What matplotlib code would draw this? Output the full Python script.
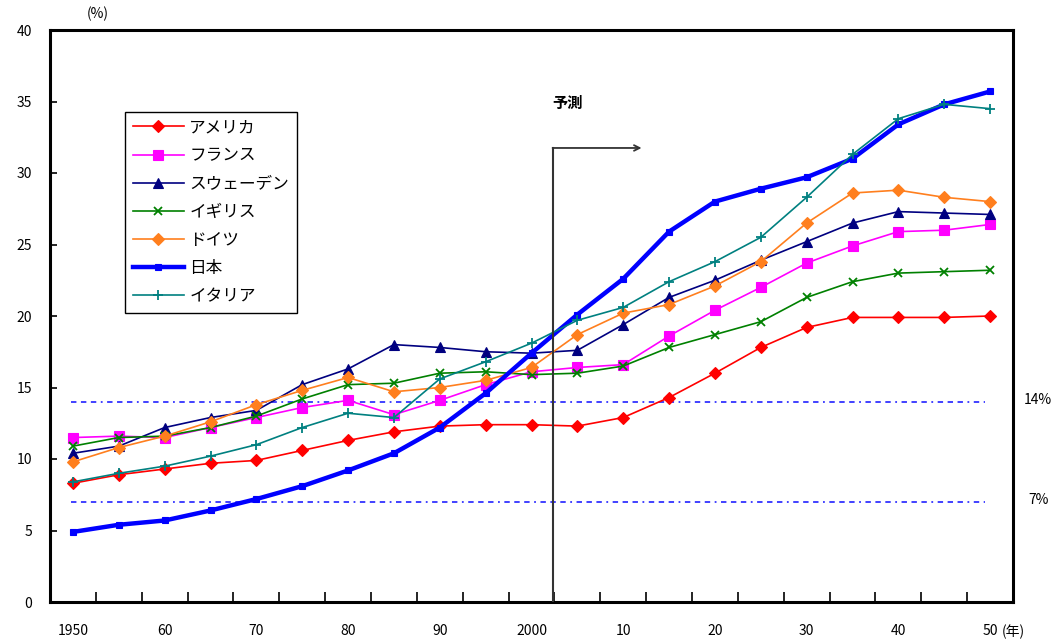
import matplotlib
matplotlib.use("Agg")
import matplotlib.pyplot as plt

plt.rcParams["font.family"] = ["Noto Sans CJK JP", "DejaVu Sans"]

# 5年刻み 1950-2050
years = list(range(1950, 2051, 5))
tick_labels = ["1950", "60", "70", "80", "90", "2000", "10", "20", "30", "40", "50"]

usa = [8.3, 8.9, 9.3, 9.7, 9.9, 10.6, 11.3, 11.9, 12.3, 12.4, 12.4, 12.3, 12.9, 14.3, 16.0, 17.8, 19.2, 19.9, 19.9, 19.9, 20.0]
france = [11.5, 11.6, 11.5, 12.2, 12.9, 13.6, 14.1, 13.1, 14.1, 15.2, 16.1, 16.4, 16.6, 18.6, 20.4, 22.0, 23.7, 24.9, 25.9, 26.0, 26.4]
sweden = [10.4, 10.9, 12.2, 12.9, 13.4, 15.2, 16.3, 18.0, 17.8, 17.5, 17.4, 17.6, 19.4, 21.3, 22.5, 23.9, 25.2, 26.5, 27.3, 27.2, 27.1]
uk = [10.9, 11.5, 11.6, 12.2, 13.0, 14.2, 15.2, 15.3, 16.0, 16.1, 15.9, 16.0, 16.5, 17.8, 18.7, 19.6, 21.3, 22.4, 23.0, 23.1, 23.2]
germany = [9.8, 10.8, 11.6, 12.6, 13.8, 14.8, 15.7, 14.7, 15.0, 15.5, 16.4, 18.7, 20.2, 20.8, 22.1, 23.8, 26.5, 28.6, 28.8, 28.3, 28.0]
japan = [4.9, 5.4, 5.7, 6.4, 7.2, 8.1, 9.2, 10.4, 12.2, 14.6, 17.4, 20.1, 22.6, 25.9, 28.0, 28.9, 29.7, 31.0, 33.4, 34.8, 35.7]
italy = [8.4, 9.0, 9.5, 10.2, 11.0, 12.2, 13.2, 12.9, 15.6, 16.8, 18.1, 19.7, 20.6, 22.4, 23.8, 25.5, 28.3, 31.3, 33.8, 34.8, 34.5]

thresholds = [14, 7]
threshold_labels = ["14%", "7%"]

x = list(range(len(years)))

fig = plt.figure(figsize=(10.57, 6.44), dpi=100)
ax = fig.add_axes([50 / 1057, 42 / 644, 963 / 1057, 572 / 644])

# 系列: (データ, 名前, 色, マーカー, サイズ, 線幅)
series = [
    (usa, "アメリカ", "#ff0000", "D", 6, 1.2),
    (france, "フランス", "#ff00ff", "s", 7, 1.2),
    (sweden, "スウェーデン", "#000080", "^", 7, 1.2),
    (uk, "イギリス", "#008000", "x", 6, 1.2),
    (germany, "ドイツ", "#ff7f1e", "D", 6, 1.2),
    (japan, "日本", "#0000ff", "s", 5, 3.2),
    (italy, "イタリア", "#008080", "+", 7, 1.2),
]
for vals, name, col, mk, ms, lw in series:
    ax.plot(x, vals, color=col, marker=mk, markersize=ms, linewidth=lw,
            markeredgewidth=1.3 if mk in "x+" else 0.8, label=name, zorder=3)

# 14% / 7% の目安線
for t, lab in zip(thresholds, threshold_labels):
    ax.plot([-0.05, 19.9], [t, t], color="#3333ff", linewidth=1.3,
            linestyle=(0, (3, 2.5, 3, 2.5, 3, 2.5, 1, 2.5)), zorder=2)
    ax.text(21.05, t + 0.15, lab, ha="center", va="center", fontsize=10,
            clip_on=False)

# 予測ライン
ax.annotate("", xy=(12.4, 31.75), xytext=(10.46, 31.75),
            arrowprops=dict(arrowstyle="->", color="#333333", lw=1.3,
                            shrinkA=0, shrinkB=0), zorder=4)
ax.plot([10.46, 10.46], [0, 31.75], color="#333333", linewidth=1.5, zorder=4)
ax.text(10.46, 34.9, "予測", ha="left", va="center", fontsize=11,
        fontweight="bold")

ax.set_xlim(-0.5, 20.5)
ax.set_ylim(0, 40)
ax.set_xticks(x[::2])
ax.set_xticklabels(tick_labels)
ax.set_xticks([i - 0.5 for i in range(len(years) + 1)], minor=True)
ax.tick_params(axis="x", which="major", length=0, pad=16, labelsize=10)
ax.tick_params(axis="x", which="minor", direction="in", length=7, width=1.2)
ax.set_yticks(range(0, 41, 5))
ax.tick_params(axis="y", direction="in", length=5, width=1.2, pad=13,
               labelsize=10)
for s in ax.spines.values():
    s.set_linewidth(2.2)

ax.text(20.26, -2.1, "(年)", ha="left", va="center", fontsize=10,
        clip_on=False)
ax.text(0.55, 41.1, "(%)", ha="center", va="center", fontsize=10,
        clip_on=False)

ax.legend(loc="upper left", bbox_to_anchor=(0.078, 0.857), borderaxespad=0,
          fancybox=False, edgecolor="black", framealpha=1, fontsize=12,
          handlelength=3.1, handletextpad=0.3, labelspacing=0.67,
          borderpad=0.45)
ax.get_legend().get_frame().set_linewidth(1.0)

fig.savefig("out.png", dpi=100)
